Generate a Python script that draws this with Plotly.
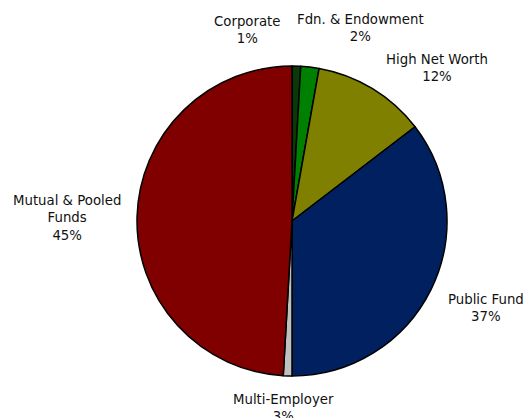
import plotly.graph_objects as go

categories = ["Corporate", "Fdn. & Endowment", "High Net Worth", "Public Fund", "Multi-Employer", "Mutual & Pooled Funds"]
label_names = ["Corporate", "Fdn. & Endowment", "High Net Worth", "Public Fund", "Multi-Employer", "Mutual & Pooled<br>Funds"]
label_pcts = ["1%", "2%", "12%", "37%", "3%", "45%"]
# slice sizes as drawn in the picture (approx. % of the circle)
values = [0.9, 1.9, 11.8, 35.4, 0.9, 49.1]
colors = ["#0a3a0a", "#008000", "#808000", "#002060", "#c0c0c0", "#800000"]
# label centres (pixel position in 527x418 frame)
label_px = [(247, 30), (360, 28), (437, 68), (486, 308), (283, 408), (67, 218)]

W, H = 527, 418
fig = go.Figure(go.Pie(
    labels=categories, values=values, sort=False, direction="clockwise", rotation=0,
    marker=dict(colors=colors, line=dict(color="black", width=1.5)),
    textinfo="none", hoverinfo="label+percent",
    domain=dict(x=[137 / W, 447 / W], y=[(H - 376) / H, (H - 66) / H]),
))
for name, pct, (px, py) in zip(label_names, label_pcts, label_px):
    fig.add_annotation(text=f"{name}<br>{pct}", x=px / W, y=1 - py / H, xref="paper", yref="paper",
                       showarrow=False, xanchor="center", yanchor="middle", align="center",
                       font=dict(family="DejaVu Sans", size=13.3, color="#111111"))
fig.update_layout(width=W, height=H, margin=dict(l=0, r=0, t=0, b=0), showlegend=False,
                  paper_bgcolor="white", plot_bgcolor="white")
fig.write_html("out.html")
